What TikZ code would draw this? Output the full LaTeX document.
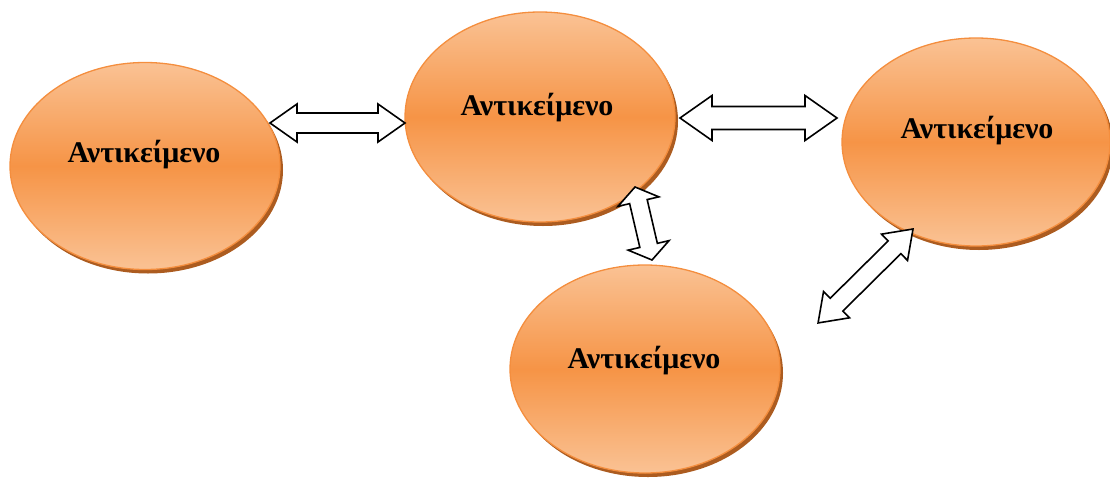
\documentclass[tikz,border=0pt]{standalone}
\usepackage{fontspec}
\setmainfont{Liberation Serif}
\usetikzlibrary{calc,shapes.geometric}

\definecolor{objLight}{RGB}{250,194,148}
\definecolor{objMid}{RGB}{246,148,70}
\definecolor{objEdge}{RGB}{244,142,62}
\definecolor{objShadow}{RGB}{172,92,32}

\tikzset{
  objshadow/.style={ellipse, inner sep=0pt, fill=objShadow},
  obj/.style={ellipse, inner sep=0pt, draw=objEdge, line width=1.3pt,
    top color=objLight, bottom color=objLight, middle color=objMid},
  objlabel/.style={anchor=base, inner sep=0pt,
    font=\fontsize{30}{34}\selectfont\bfseries},
  blockarrow/.style={draw=black, fill=white, line width=1.6pt, line join=miter}
}

% double-headed block arrow from #1 to #2:
% #3 = half shaft width, #4 = half head width, #5 = head length (pt)
\newcommand{\blockarrow}[5]{%
  \path[blockarrow] let \p1=(#1), \p2=(#2),
    \n1={atan2(\y2-\y1,\x2-\x1)}, \n2={veclen(\x2-\x1,\y2-\y1)} in
    [shift={(\p1)}, rotate=\n1]
    (0pt,0pt) -- (#5pt,#4pt) -- (#5pt,#3pt) -- ({\n2-#5pt},#3pt)
    -- ({\n2-#5pt},#4pt) -- (\n2,0pt) -- ({\n2-#5pt},-#4pt)
    -- ({\n2-#5pt},-#3pt) -- (#5pt,-#3pt) -- (#5pt,-#4pt) -- cycle;
}

\begin{document}
\begin{tikzpicture}[x=1pt,y=-1pt]
\useasboundingbox (0,0) rectangle (1110,479);

% drop shadows
\node[objshadow, minimum width=270pt, minimum height=207pt] (s1) at (148,170) {};
\node[objshadow, minimum width=270pt, minimum height=210pt] (s2) at (543,121) {};
\node[objshadow, minimum width=268pt, minimum height=208pt] (s3) at (979,146) {};
\node[objshadow, minimum width=270pt, minimum height=208pt] (s4) at (648,373) {};

% objects
\node[obj, minimum width=270pt, minimum height=207pt] (e1) at (145,166) {};
\node[obj, minimum width=270pt, minimum height=210pt] (e2) at (540,117) {};
\node[obj, minimum width=268pt, minimum height=208pt] (e3) at (976,142) {};
\node[obj, minimum width=270pt, minimum height=208pt] (e4) at (645,369) {};

\node[objlabel] (t1) at (144,162) {Αντικείμενο};
\node[objlabel] (t2) at (537,115) {Αντικείμενο};
\node[objlabel] (t3) at (977,138) {Αντικείμενο};
\node[objlabel] (t4) at (644,368) {Αντικείμενο};

% arrow end points
\coordinate (a1) at (270,123);
\coordinate (b1) at (405,123);
\coordinate (a2) at (680,118);
\coordinate (b2) at (837,118);
\coordinate (a3) at (635,187);
\coordinate (b3) at (652,260);
\coordinate (a4) at (913,229);
\coordinate (b4) at (818,323);

\blockarrow{a1}{b1}{10}{19}{27}
\blockarrow{a2}{b2}{11.5}{22.5}{32}
\blockarrow{a3}{b3}{9}{21}{15}
\blockarrow{a4}{b4}{9}{18.5}{26}
\end{tikzpicture}
\end{document}
